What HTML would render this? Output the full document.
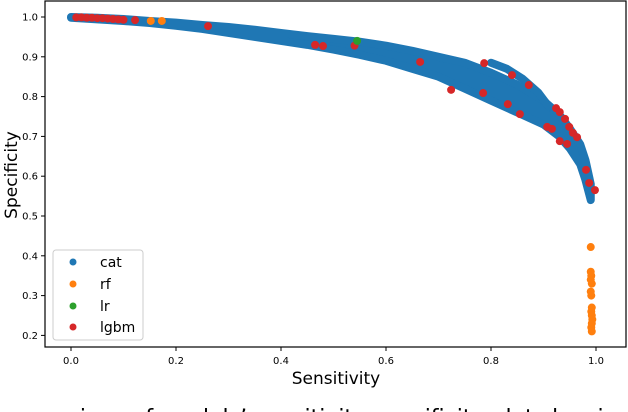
<!DOCTYPE html>
<html><head><meta charset="utf-8"><style>
html,body{margin:0;padding:0;background:#fff;width:628px;height:412px;overflow:hidden}
svg{display:block}
text{font-family:"DejaVu Sans","Liberation Sans",sans-serif}
</style></head><body>
<svg id="chart" width="628" height="412" viewBox="0 0 628 412" xmlns="http://www.w3.org/2000/svg">
<g id="marks"></g>
<rect x="45" y="1" width="581" height="346" fill="none" stroke="#000" stroke-width="1.2"/>
<g id="axes"></g>
<text x="336" y="384" font-size="17" text-anchor="middle">Sensitivity</text>
<text transform="translate(17,175) rotate(-90)" font-size="17" text-anchor="middle">Specificity</text>
<g>
<rect x="53" y="250" width="90" height="90" rx="3" fill="#fff" fill-opacity="0.85" stroke="#ccc"/>
<circle cx="73" cy="262" r="3.5" fill="#1f77b4"/><text x="100" y="267" font-size="14">cat</text>
<circle cx="73" cy="284" r="3.5" fill="#ff7f0e"/><text x="100" y="289" font-size="14">rf</text>
<circle cx="73" cy="306" r="3.5" fill="#2ca02c"/><text x="100" y="311" font-size="14">lr</text>
<circle cx="73" cy="327" r="3.5" fill="#d62728"/><text x="100" y="332" font-size="14">lgbm</text>
</g>
<text x="314" y="425" font-size="22" text-anchor="middle" font-family="Liberation Serif, serif">comparison of models’ sensitivity-specificity plot showing</text>
</svg>
<script>
const xTicks=[0,0.2,0.4,0.6,0.8,1.0];
const yTicks=[0.2,0.3,0.4,0.5,0.6,0.7,0.8,0.9,1.0];
const catSens=[0,0.05,0.1,0.15,0.2,0.25,0.3,0.35,0.4,0.45,0.5,0.55,0.6,0.65,0.7,0.75,0.8,0.85,0.9,0.93,0.95,0.97,0.98,0.99];
const catSpecUpper=[1.0,0.998,0.995,0.99,0.986,0.98,0.975,0.968,0.96,0.952,0.945,0.938,0.928,0.915,0.9,0.885,0.86,0.83,0.79,0.755,0.72,0.68,0.64,0.58];
const catSpecLower=[0.998,0.994,0.99,0.985,0.978,0.97,0.96,0.95,0.94,0.93,0.918,0.905,0.89,0.87,0.85,0.82,0.79,0.76,0.73,0.7,0.67,0.63,0.59,0.54];
const catStrandSens=[0.8,0.83,0.86,0.89,0.91];
const catStrandSpec=[0.885,0.87,0.845,0.81,0.775];
const rfSens=[0.152,0.173,0.99,0.99,0.991,0.99,0.992,0.99,0.991,0.992,0.991,0.992,0.993,0.992,0.991,0.992];
const rfSpec=[0.99,0.99,0.422,0.36,0.35,0.34,0.33,0.31,0.30,0.27,0.26,0.25,0.24,0.23,0.22,0.21];
const lrSens=[0.545];
const lrSpec=[0.94];
const lgbmSens=[0.01,0.02,0.03,0.04,0.05,0.06,0.07,0.08,0.09,0.1,0.122,0.261,0.465,0.48,0.54,0.665,0.724,0.787,0.84,0.872,0.785,0.832,0.855,0.924,0.931,0.941,0.949,0.956,0.964,0.907,0.916,0.931,0.945,0.981,0.987,0.998];
const lgbmSpec=[0.999,0.999,0.998,0.998,0.997,0.997,0.996,0.995,0.994,0.993,0.992,0.977,0.93,0.927,0.928,0.887,0.817,0.884,0.854,0.829,0.809,0.781,0.756,0.771,0.761,0.744,0.724,0.709,0.698,0.724,0.719,0.688,0.681,0.616,0.583,0.565];
const NS="http://www.w3.org/2000/svg";
function xs(v){return 71+v*525;}
function ys(v){return 17+(1-v)*398;}
const marks=document.getElementById('marks');
const axes=document.getElementById('axes');
const bandPts=catSens.map((s,i)=>xs(s)+','+ys(catSpecUpper[i])).concat(catSens.map((s,i)=>xs(s)+','+ys(catSpecLower[i])).reverse()).join(' ');
const poly=document.createElementNS(NS,'polygon');
poly.setAttribute('points',bandPts);
poly.setAttribute('fill','#1f77b4');poly.setAttribute('stroke','#1f77b4');poly.setAttribute('stroke-width','8');poly.setAttribute('stroke-linejoin','round');


marks.appendChild(poly);
const strand=document.createElementNS(NS,'polyline');
strand.setAttribute('points',catStrandSens.map((s,i)=>xs(s)+','+ys(catStrandSpec[i])).join(' '));
strand.setAttribute('fill','none');strand.setAttribute('stroke','#1f77b4');strand.setAttribute('stroke-width','8');strand.setAttribute('stroke-linecap','round');


marks.appendChild(strand);
function pts(sens,spec,color,name){
  sens.forEach((s,i)=>{
    const c=document.createElementNS(NS,'circle');
    c.setAttribute('cx',xs(s));c.setAttribute('cy',ys(spec[i]));c.setAttribute('r','4');c.setAttribute('fill',color);
    
    
    marks.appendChild(c);
  });
}
pts(rfSens,rfSpec,'#ff7f0e','rf-point');
pts(lgbmSens,lgbmSpec,'#d62728','lgbm-point');
pts(lrSens,lrSpec,'#2ca02c','lr-point');
xTicks.forEach(t=>{
  const l=document.createElementNS(NS,'line');
  l.setAttribute('x1',xs(t));l.setAttribute('x2',xs(t));l.setAttribute('y1',347);l.setAttribute('y2',351);l.setAttribute('stroke','#000');
  
  
  axes.appendChild(l);
  const tx=document.createElementNS(NS,'text');
  tx.setAttribute('x',xs(t));tx.setAttribute('y',364);tx.setAttribute('font-size','10');tx.setAttribute('text-anchor','middle');
  tx.textContent=t.toFixed(1);
  
  
  axes.appendChild(tx);
});
yTicks.forEach(t=>{
  const l=document.createElementNS(NS,'line');
  l.setAttribute('x1',41);l.setAttribute('x2',45);l.setAttribute('y1',ys(t));l.setAttribute('y2',ys(t));l.setAttribute('stroke','#000');
  
  
  axes.appendChild(l);
  const tx=document.createElementNS(NS,'text');
  tx.setAttribute('x',38);tx.setAttribute('y',ys(t)+3.5);tx.setAttribute('font-size','10');tx.setAttribute('text-anchor','end');
  tx.textContent=t.toFixed(1);
  
  
  axes.appendChild(tx);
});
</script>
</body></html>
